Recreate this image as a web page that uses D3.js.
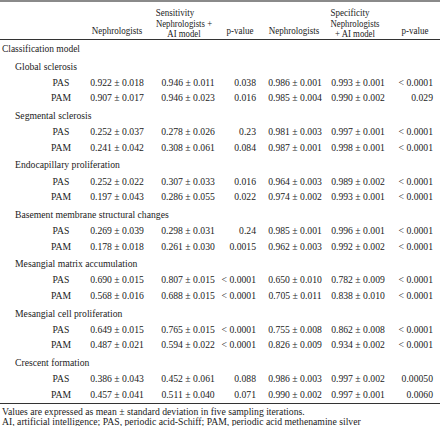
<!DOCTYPE html>
<html><head><meta charset="utf-8">
<script src="https://cdn.jsdelivr.net/npm/d3@7"></script>
<style>
html,body{margin:0;padding:0;background:#fff;}
svg{display:block;}
text{font-family:"Liberation Serif","Times New Roman",serif;font-size:10px;fill:#222;}
</style></head>
<body>
<script>
const groups = ["Global sclerosis","Segmental sclerosis","Endocapillary proliferation","Basement membrane structural changes","Mesangial matrix accumulation","Mesangial cell proliferation","Crescent formation"];
const stains = ["PAS","PAM"];
const sensNephMean = [0.922,0.907,0.252,0.241,0.252,0.197,0.269,0.178,0.690,0.568,0.649,0.487,0.386,0.457];
const sensNephSd   = [0.018,0.017,0.037,0.042,0.022,0.043,0.039,0.018,0.015,0.016,0.015,0.021,0.043,0.041];
const sensAIMean   = [0.946,0.946,0.278,0.308,0.307,0.286,0.298,0.261,0.807,0.688,0.765,0.594,0.452,0.511];
const sensAISd     = [0.011,0.023,0.026,0.061,0.033,0.055,0.031,0.030,0.015,0.015,0.015,0.022,0.061,0.040];
const sensP        = ["0.038","0.016","0.23","0.084","0.016","0.022","0.24","0.0015","< 0.0001","< 0.0001","< 0.0001","< 0.0001","0.088","0.071"];
const specNephMean = [0.986,0.985,0.981,0.987,0.964,0.974,0.985,0.962,0.650,0.705,0.755,0.826,0.986,0.990];
const specNephSd   = [0.001,0.004,0.003,0.001,0.003,0.002,0.001,0.003,0.010,0.011,0.008,0.009,0.003,0.002];
const specAIMean   = [0.993,0.990,0.997,0.998,0.989,0.993,0.996,0.992,0.782,0.838,0.862,0.934,0.997,0.997];
const specAISd     = [0.001,0.002,0.001,0.001,0.002,0.001,0.001,0.002,0.009,0.010,0.008,0.002,0.002,0.001];
const specP        = ["< 0.0001","0.029","< 0.0001","< 0.0001","< 0.0001","< 0.0001","< 0.0001","< 0.0001","< 0.0001","< 0.0001","< 0.0001","< 0.0001","0.00050","0.0060"];
const footnotes = ["Values are expressed as mean \u00b1 standard deviation in five sampling iterations.",
                   "AI, artificial intelligence; PAS, periodic acid-Schiff; PAM, periodic acid methenamine silver"];

const W = 440, H = 426;
const svg = d3.select("body").append("svg").attr("width", W).attr("height", H);
const f3 = d3.format(".3f");
const pm = (m, s) => f3(m) + " \u00b1 " + f3(s);

// column positions
const col = {label:2, group:15, stain:61, sN:117, sA:188, sP:256, pN:295, pA:358, pP:433};
// vertical scale over group index
const yGroup = d3.scaleLinear().domain([0, 6]).range([69.5, 366]);
const rowGap = 16.3;

// rules
svg.append("line").attr("x1",0).attr("x2",W).attr("y1",1).attr("y2",1).attr("stroke","#8a8a8a").attr("stroke-width",2);
svg.append("line").attr("x1",0).attr("x2",W).attr("y1",39.5).attr("y2",39.5).attr("stroke","#333").attr("stroke-width",1);
svg.append("line").attr("x1",0).attr("x2",W).attr("y1",403.5).attr("y2",403.5).attr("stroke","#333").attr("stroke-width",1);

function t(x, y, s, anchor, size, k) {
  const el = svg.append("text").attr("x", x).attr("y", y).attr("text-anchor", anchor || "start")
    .style("font-size", (size || 10.5) + "px").text(s);
  const L = el.node().getComputedTextLength();
  el.attr("textLength", (L * (k || 0.92)).toFixed(2)).attr("lengthAdjust", "spacingAndGlyphs");
  return el;
}
// header
t(175, 15.5, "Sensitivity", "middle", 10, 0.9);
t(350, 15.5, "Specificity", "middle", 10, 0.9);
t(col.sN, 33.5, "Nephrologists", "middle", 10, 0.9);
t(184, 26.5, "Nephrologists +", "middle", 9.5, 0.92);
t(184, 37, "AI model", "middle", 9.5, 0.92);
t(240, 33.5, "p-value", "middle", 10, 0.9);
t(294, 33.5, "Nephrologists", "middle", 10, 0.9);
t(355, 26.5, "Nephrologists", "middle", 9.5, 0.92);
t(355, 37, "+ AI model", "middle", 9.5, 0.92);
t(415, 33.5, "p-value", "middle", 10, 0.9);

t(col.label, 51.5, "Classification model", "start", 10.5, 0.9);

groups.forEach((g, gi) => {
  const y0 = yGroup(gi);
  t(col.group, y0, g);
  stains.forEach((s, si) => {
    const i = gi * 2 + si;
    const y = y0 + rowGap * (si + 1) - (si ? 0.8 : 0);
    t(col.stain, y, s, "middle");
    t(col.sN, y, pm(sensNephMean[i], sensNephSd[i]), "middle");
    t(col.sA, y, pm(sensAIMean[i], sensAISd[i]), "middle");
    t(col.sP, y, sensP[i], "end");
    t(col.pN, y, pm(specNephMean[i], specNephSd[i]), "middle");
    t(col.pA, y, pm(specAIMean[i], specAISd[i]), "middle");
    t(col.pP, y, specP[i], "end");
  });
});

t(col.label, 414.5, footnotes[0], "start", 10, 0.97);
t(col.label, 424.5, footnotes[1], "start", 10, 0.97);
</script>
</body></html>
